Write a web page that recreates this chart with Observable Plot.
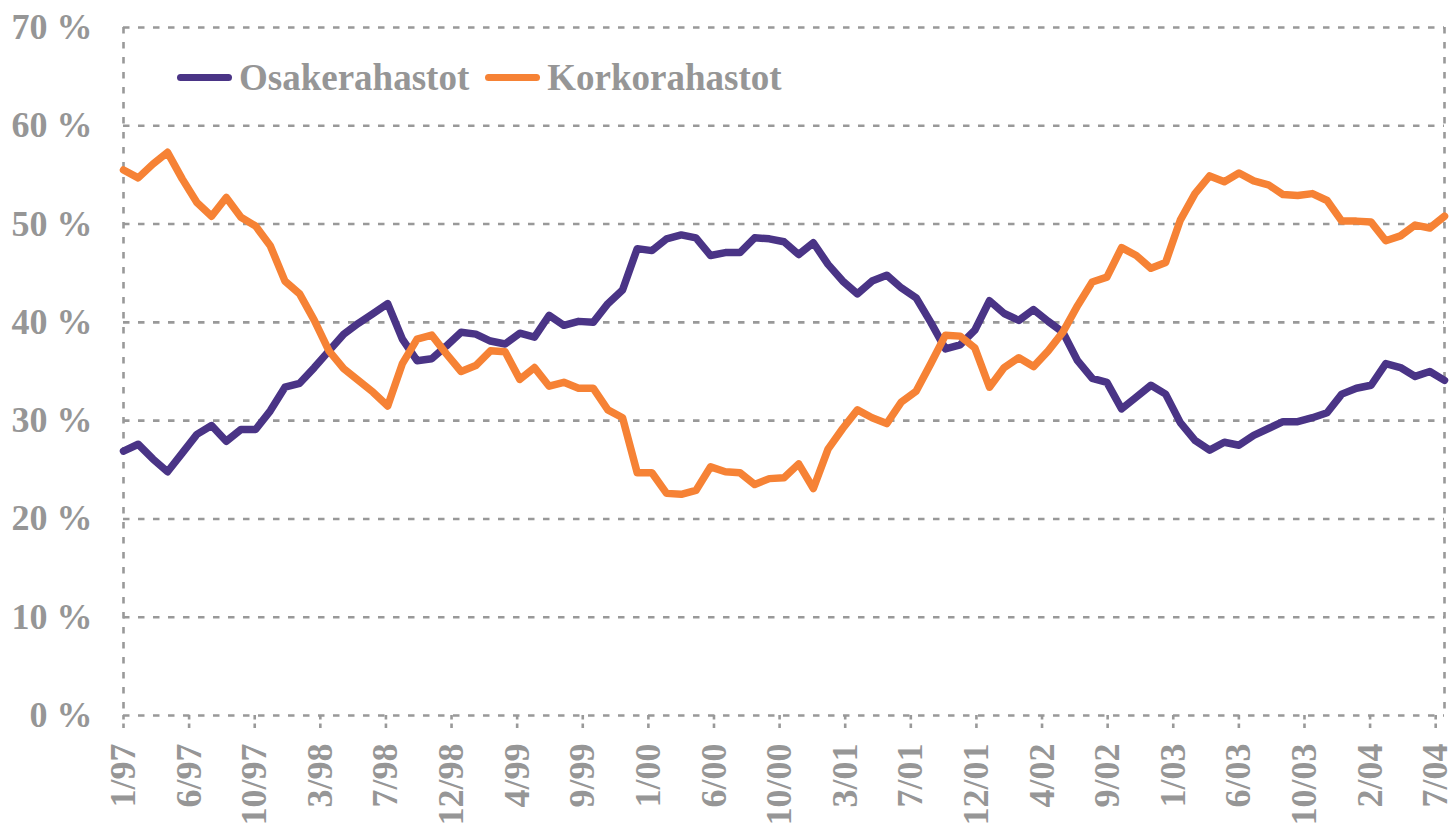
<!DOCTYPE html>
<html>
<head>
<meta charset="utf-8">
<script src="https://cdn.jsdelivr.net/npm/d3@7"></script>
<script src="https://cdn.jsdelivr.net/npm/@observablehq/plot@0.6"></script>
<style>
  body { margin: 0; background: #fff; }
  #wrap { position: relative; width: 1450px; height: 828px; overflow: hidden; }
  .legend { position: absolute; left: 177px; top: 59px; display: flex; align-items: center;
    font-family: "Liberation Serif", "Times New Roman", serif; font-weight: bold; font-size: 37px;
    line-height: 37px; color: #969696; white-space: nowrap; }
  .sw { display: inline-block; width: 55px; height: 7px; border-radius: 4px; margin-right: 7px; }
  .item { display: flex; align-items: center; margin-right: 16px; }
</style>
</head>
<body>
<div id="wrap"></div>
<script>
// Month labels on the x axis (1/97 .. 7/04)
const tickLabels = ["1/97","6/97","10/97","3/98","7/98","12/98","4/99","9/99","1/00","6/00","10/00",
  "3/01","7/01","12/01","4/02","9/02","1/03","6/03","10/03","2/04","7/04"];

// Series names and colours
const seriesNames = ["Osakerahastot", "Korkorahastot"];
const seriesColors = ["#4a3486", "#f68235"];

// Monthly shares (%), 1/97 .. 7/04
const osakerahastot = [26.9,27.6,26.1,24.8,26.7,28.6,29.5,27.9,29.1,29.1,31.0,33.4,33.8,35.4,37.1,38.8,39.9,40.9,41.9,
  38.3,36.1,36.3,37.6,39.0,38.8,38.1,37.8,38.9,38.5,40.7,39.7,40.1,40.0,41.9,43.3,47.5,47.3,48.5,48.9,
  48.6,46.8,47.1,47.1,48.6,48.5,48.2,46.9,48.1,45.9,44.2,42.9,44.2,44.8,43.5,42.5,40.0,37.3,37.7,
  39.2,42.2,40.9,40.2,41.3,40.1,39.0,36.1,34.3,33.9,31.2,32.4,33.6,32.7,29.8,28.0,27.0,27.8,27.5,
  28.5,29.2,29.9,29.9,30.3,30.8,32.7,33.3,33.6,35.8,35.4,34.5,35.0,34.1];
const korkorahastot = [55.5,54.7,56.1,57.3,54.6,52.2,50.8,52.7,50.7,49.8,47.8,44.2,42.9,40.2,37.1,35.3,34.1,32.9,31.5,
  35.8,38.3,38.7,36.8,35.0,35.6,37.1,37.0,34.2,35.4,33.5,33.9,33.3,33.3,31.1,30.3,24.7,24.7,22.6,22.5,
  22.9,25.3,24.8,24.7,23.5,24.1,24.2,25.6,23.1,27.1,29.2,31.1,30.3,29.7,31.9,33.0,35.8,38.7,38.6,
  37.4,33.4,35.4,36.4,35.5,37.1,39.0,41.7,44.1,44.6,47.6,46.8,45.5,46.1,50.4,53.1,54.9,54.3,55.2,
  54.4,54.0,53.0,52.9,53.1,52.4,50.3,50.3,50.2,48.3,48.8,49.9,49.6,50.8];

const yTicks = [0,10,20,30,40,50,60,70];

const data = [];
osakerahastot.forEach((v, i) => data.push({m: i, v, s: seriesNames[0]}));
korkorahastot.forEach((v, i) => data.push({m: i, v, s: seriesNames[1]}));

const lastIdx = osakerahastot.length - 1;
const tickStep = 4.47; // labels are evenly spaced along the category axis
const tickPos = tickLabels.map((_, i) => i * tickStep);
const grid = "#999999";
const dash = "6.5,8.5";

const chart = Plot.plot({
  width: 1450, height: 828,
  marginLeft: 123, marginRight: 6, marginTop: 27, marginBottom: 113,
  style: {fontFamily: '"Liberation Serif", "Times New Roman", serif', fontWeight: "bold", fontSize: "36px", color: "#969696", background: "#fff"},
  x: {domain: [0, lastIdx], label: null},
  y: {domain: [0, 70], label: null},
  color: {domain: seriesNames, range: seriesColors},
  marks: [
    Plot.gridY(yTicks, {stroke: grid, strokeOpacity: 1, strokeWidth: 2.6, strokeDasharray: dash}),
    Plot.ruleX([0, lastIdx], {stroke: grid, strokeWidth: 2.6, strokeDasharray: dash}),
    Plot.ruleX(tickPos, {y1: 0, y2: -1.5, stroke: grid, strokeWidth: 2.6, strokeDasharray: "4.5,4"}),
    Plot.axisY(yTicks, {tickSize: 0, tickPadding: 31, tickFormat: d => d + " %", fontSize: 36, label: null}),
    Plot.axisX(tickPos, {tickSize: 0, tickPadding: 28, tickRotate: -90, fontSize: 36, label: null,
      tickFormat: d => tickLabels[Math.round(d / tickStep)]}),
    Plot.line(data, {x: "m", y: "v", stroke: "s", strokeWidth: 7.5, strokeLinejoin: "round", strokeLinecap: "round"})
  ]
});

const wrap = document.getElementById("wrap");
wrap.appendChild(chart);

const legend = document.createElement("div");
legend.className = "legend";
seriesNames.forEach((name, i) => {
  const item = document.createElement("span");
  item.className = "item";
  const sw = document.createElement("span");
  sw.className = "sw";
  sw.style.background = seriesColors[i];
  item.appendChild(sw);
  item.appendChild(document.createTextNode(name));
  legend.appendChild(item);
});
wrap.appendChild(legend);
</script>
</body>
</html>
